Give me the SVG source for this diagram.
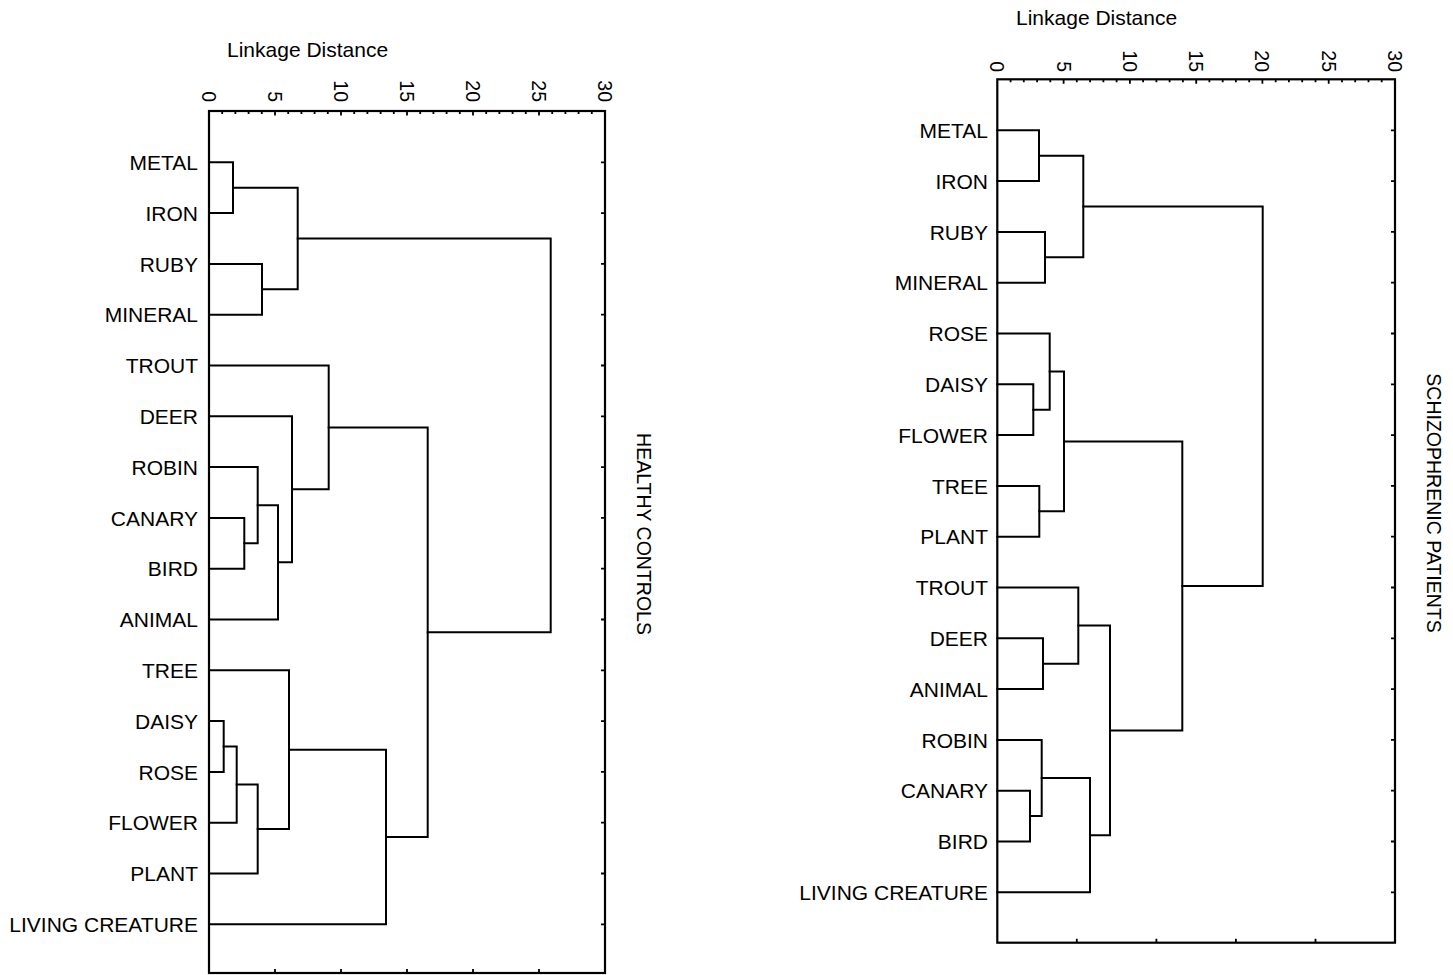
<svg xmlns="http://www.w3.org/2000/svg" width="1453" height="975" viewBox="0 0 1453 975">
<style>
.fr{fill:none;stroke:#000;stroke-width:2.2}
.ln{fill:none;stroke:#000;stroke-width:2;stroke-linejoin:miter;stroke-linecap:square}
.tk{fill:none;stroke:#000;stroke-width:1.8}
text{font-family:"Liberation Sans",Arial,sans-serif;fill:#000}
.lb{font-size:21px;text-anchor:end}
.ax{font-size:19.5px;text-anchor:end}
.ti{font-size:21px}
.side{font-size:19.5px;text-anchor:middle}
</style>
<rect width="1453" height="975" fill="#fff"/>

<g id="panel-healthy">
<rect class="fr" x="209" y="111" width="396" height="862"/>
<path class="tk" d="M222.2,111v3M235.4,111v3M248.6,111v3M261.8,111v3M275,111v4.5M288.2,111v3M301.4,111v3M314.6,111v3M327.8,111v3M341,111v4.5M354.2,111v3M367.4,111v3M380.6,111v3M393.8,111v3M407,111v4.5M420.2,111v3M433.4,111v3M446.6,111v3M459.8,111v3M473,111v4.5M486.2,111v3M499.4,111v3M512.6,111v3M525.8,111v3M539,111v4.5M552.2,111v3M565.4,111v3M578.6,111v3M591.8,111v3"/>
<path class="tk" d="M275,973v-4M341,973v-4M407,973v-4M473,973v-4M539,973v-4"/>
<path class="tk" d="M605,162.3h-4M605,213.1h-4M605,263.9h-4M605,314.7h-4M605,365.5h-4M605,416.3h-4M605,467.1h-4M605,517.9h-4M605,568.7h-4M605,619.5h-4M605,670.3h-4M605,721.1h-4M605,771.9h-4M605,822.7h-4M605,873.5h-4M605,924.3h-4"/>
<text class="ti" x="227" y="57">Linkage Distance</text>
<text class="ax" transform="translate(202,102) rotate(90)">0</text>
<text class="ax" transform="translate(268,102) rotate(90)">5</text>
<text class="ax" transform="translate(334,102) rotate(90)">10</text>
<text class="ax" transform="translate(400,102) rotate(90)">15</text>
<text class="ax" transform="translate(466,102) rotate(90)">20</text>
<text class="ax" transform="translate(532,102) rotate(90)">25</text>
<text class="ax" transform="translate(598,102) rotate(90)">30</text>
<text class="side" transform="translate(637,534) rotate(90)">HEALTHY CONTROLS</text>
</g>

<g id="labels-healthy">
<text class="lb" x="198" y="170">METAL</text>
<text class="lb" x="198" y="220.8">IRON</text>
<text class="lb" x="198" y="271.6">RUBY</text>
<text class="lb" x="198" y="322.4">MINERAL</text>
<text class="lb" x="198" y="373.2">TROUT</text>
<text class="lb" x="198" y="424">DEER</text>
<text class="lb" x="198" y="474.8">ROBIN</text>
<text class="lb" x="198" y="525.6">CANARY</text>
<text class="lb" x="198" y="576.4">BIRD</text>
<text class="lb" x="198" y="627.2">ANIMAL</text>
<text class="lb" x="198" y="678">TREE</text>
<text class="lb" x="198" y="728.8">DAISY</text>
<text class="lb" x="198" y="779.6">ROSE</text>
<text class="lb" x="198" y="830.4">FLOWER</text>
<text class="lb" x="198" y="881.2">PLANT</text>
<text class="lb" x="198" y="932">LIVING CREATURE</text>
</g>

<g id="dendrogram-healthy">
<path class="ln" d="M209,162.3H233V213.1H209"/>
<path class="ln" d="M209,263.9H262V314.7H209"/>
<path class="ln" d="M233,187.7H297.7V289.3H262"/>
<path class="ln" d="M297.7,238.5H550.7V632.2H427.7"/>
<path class="ln" d="M209,365.5H328.7V489.3H292"/>
<path class="ln" d="M209,416.3H292V562.3H278"/>
<path class="ln" d="M209,467.1H257.7V543.3H244.3"/>
<path class="ln" d="M209,517.9H244.3V568.7H209"/>
<path class="ln" d="M209,619.5H278V505.2H257.7"/>
<path class="ln" d="M328.7,427.4H427.7V837H386"/>
<path class="ln" d="M209,670.3H289V829H257.7"/>
<path class="ln" d="M209,721.1H223.7V771.9H209"/>
<path class="ln" d="M223.7,746.5H236.7V822.7H209"/>
<path class="ln" d="M236.7,784.6H257.7V873.5H209"/>
<path class="ln" d="M289,749.7H386V924.3H209"/>
</g>

<g id="panel-schizophrenic">
<rect class="fr" x="997.3" y="79.3" width="397.7" height="863.4"/>
<path class="tk" d="M1010.6,79.3v3M1023.8,79.3v3M1037.1,79.3v3M1050.3,79.3v3M1063.6,79.3v4.5M1076.8,79.3v3M1090.1,79.3v3M1103.4,79.3v3M1116.6,79.3v3M1129.9,79.3v4.5M1143.1,79.3v3M1156.4,79.3v3M1169.6,79.3v3M1182.9,79.3v3M1196.2,79.3v4.5M1209.4,79.3v3M1222.7,79.3v3M1235.9,79.3v3M1249.2,79.3v3M1262.4,79.3v4.5M1275.7,79.3v3M1288.9,79.3v3M1302.2,79.3v3M1315.5,79.3v3M1328.7,79.3v4.5M1342,79.3v3M1355.2,79.3v3M1368.5,79.3v3M1381.7,79.3v3"/>
<path class="tk" d="M1076.8,942.7v-4M1156.4,942.7v-4M1235.9,942.7v-4M1315.5,942.7v-4"/>
<path class="tk" d="M1395,130.3h-4M1395,181.1h-4M1395,231.9h-4M1395,282.7h-4M1395,333.5h-4M1395,384.3h-4M1395,435.1h-4M1395,485.9h-4M1395,536.7h-4M1395,587.5h-4M1395,638.3h-4M1395,689.1h-4M1395,739.9h-4M1395,790.7h-4M1395,841.5h-4M1395,892.3h-4"/>
<text class="ti" x="1016" y="25">Linkage Distance</text>
<text class="ax" transform="translate(990.3,72) rotate(90)">0</text>
<text class="ax" transform="translate(1056.6,72) rotate(90)">5</text>
<text class="ax" transform="translate(1122.9,72) rotate(90)">10</text>
<text class="ax" transform="translate(1189.2,72) rotate(90)">15</text>
<text class="ax" transform="translate(1255.4,72) rotate(90)">20</text>
<text class="ax" transform="translate(1321.7,72) rotate(90)">25</text>
<text class="ax" transform="translate(1388,72) rotate(90)">30</text>
<text class="side" transform="translate(1427,503) rotate(90)">SCHIZOPHRENIC PATIENTS</text>
</g>

<g id="labels-schizophrenic">
<text class="lb" x="988" y="138">METAL</text>
<text class="lb" x="988" y="188.8">IRON</text>
<text class="lb" x="988" y="239.6">RUBY</text>
<text class="lb" x="988" y="290.4">MINERAL</text>
<text class="lb" x="988" y="341.2">ROSE</text>
<text class="lb" x="988" y="392">DAISY</text>
<text class="lb" x="988" y="442.8">FLOWER</text>
<text class="lb" x="988" y="493.6">TREE</text>
<text class="lb" x="988" y="544.4">PLANT</text>
<text class="lb" x="988" y="595.2">TROUT</text>
<text class="lb" x="988" y="646">DEER</text>
<text class="lb" x="988" y="696.8">ANIMAL</text>
<text class="lb" x="988" y="747.6">ROBIN</text>
<text class="lb" x="988" y="798.4">CANARY</text>
<text class="lb" x="988" y="849.2">BIRD</text>
<text class="lb" x="988" y="900">LIVING CREATURE</text>
</g>

<g id="dendrogram-schizophrenic">
<path class="ln" d="M997.3,130.3H1039V181.1H997.3"/>
<path class="ln" d="M997.3,231.9H1045V282.7H997.3"/>
<path class="ln" d="M1039,155.7H1083.3V257.3H1045"/>
<path class="ln" d="M1083.3,206.5H1262.7V586H1182.3"/>
<path class="ln" d="M997.3,333.5H1049.7V409.7H1033.3"/>
<path class="ln" d="M997.3,384.3H1033.3V435.1H997.3"/>
<path class="ln" d="M997.3,485.9H1039.3V536.7H997.3"/>
<path class="ln" d="M1049.7,371.6H1064V511.3H1039.3"/>
<path class="ln" d="M1064,441.5H1182.3V730.4H1110"/>
<path class="ln" d="M997.3,587.5H1078.3V663.7H1043"/>
<path class="ln" d="M997.3,638.3H1043V689.1H997.3"/>
<path class="ln" d="M1078.3,625.6H1110V835.2H1090"/>
<path class="ln" d="M997.3,739.9H1041.7V816.1H1030"/>
<path class="ln" d="M997.3,790.7H1030V841.5H997.3"/>
<path class="ln" d="M1041.7,778H1090V892.3H997.3"/>
</g>
</svg>
